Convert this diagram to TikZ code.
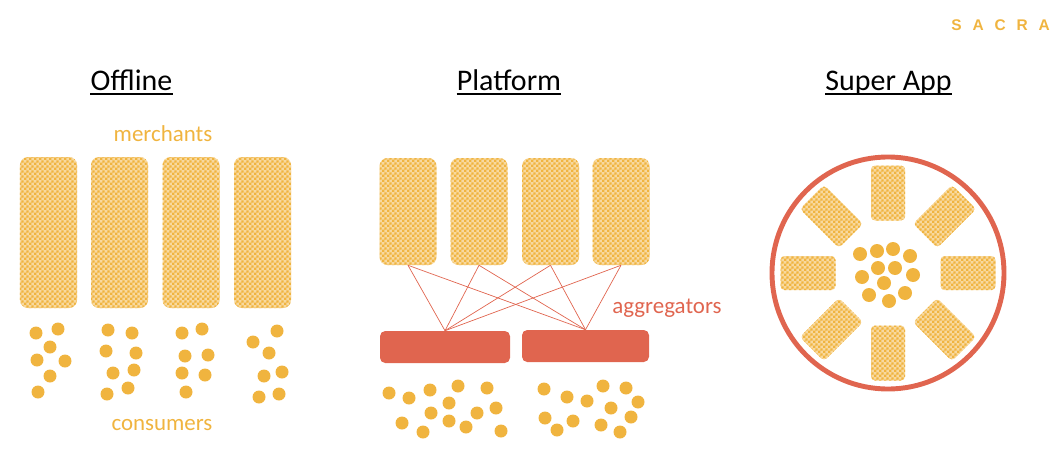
\documentclass[tikz,border=0pt]{standalone}
\usepackage{fontspec}
\setmainfont{Carlito}
\newfontfamily\logofont[LetterSpace=70]{Liberation Sans}
\usetikzlibrary{patterns,calc}

\definecolor{merchorange}{HTML}{F0B43F}
\definecolor{aggred}{HTML}{E0654F}

% small checker for the merchant blocks
\pgfdeclarepatternformonly{checker}{\pgfpointorigin}{\pgfqpoint{3.4pt}{3.4pt}}{\pgfqpoint{3.4pt}{3.4pt}}{%
  \pgfpathrectangle{\pgfpointorigin}{\pgfqpoint{1.7pt}{1.7pt}}%
  \pgfpathrectangle{\pgfqpoint{1.7pt}{1.7pt}}{\pgfqpoint{1.7pt}{1.7pt}}%
  \pgfusepath{fill}}

\tikzset{
  merchant/.style={rectangle, rounded corners=2mm, inner sep=0pt,
    preaction={fill=merchorange!50}, pattern=checker, pattern color=merchorange},
  aggregator/.style={rectangle, rounded corners=1.3mm, inner sep=0pt, fill=aggred},
  title/.style={anchor=base, inner sep=0pt, font=\fontsize{21.3}{24}\selectfont},
  caption/.style={anchor=base, inner sep=0pt, font=\fontsize{16.3}{19}\selectfont},
  consumer/.style={fill=merchorange},
  link/.style={draw=aggred, line width=0.5pt},
}

\begin{document}
\begin{tikzpicture}[x=0.25mm, y=-0.25mm]
    \useasboundingbox (0,0) rectangle (1055,458);

    % logo (top right)
    \node[anchor=base east, inner sep=0pt, text=merchorange, font=\logofont\bfseries\fontsize{11}{12}\selectfont] (logo) at (1050,30) {SACRA};

    % Titles
    \node[title] (tOffline) at (131.5,90) {Offline};
    \node[title] (tPlatform) at (509,90) {Platform};
    \node[title] (tSuper) at (888.5,90) {Super App};
    \foreach \t in {tOffline, tPlatform, tSuper}
        \draw[line width=2pt] ([yshift=-2.9pt]\t.base west) -- ([yshift=-2.9pt]\t.base east);

    % Offline: merchants (top)
    \node[caption, text=merchorange] (lblMerchants) at (163,141) {merchants};
    \foreach \x [count=\i] in {48.5, 119.5, 191, 262.5}
        \node[merchant, minimum width=14.25mm, minimum height=37.75mm] (om\i) at (\x,232.5) {};

    % Offline: consumers (bottom)
    \foreach \p in {(36,333), (58,329), (50,347), (37,360), (65,361), (50,376), (38,392),
                    (108,330), (132,333), (106,351), (136,353), (113,373), (134,370), (107,394), (128,388),
                    (182,333), (202,329), (185,356), (208,355), (182,373), (205,375), (186,392),
                    (253,342), (277,331), (269,353), (264,376), (282,372), (259,397), (279,394)}
        \fill[consumer] \p circle [radius=6.5];
    \node[caption, text=merchorange] (lblConsumers) at (162,430) {consumers};

    % Platform: merchants (top)
    \foreach \x [count=\i] in {408, 479, 550.5, 621}
        \node[merchant, minimum width=14.25mm, minimum height=26.75mm] (pm\i) at (\x,211.5) {};

    % Platform: aggregators
    \node[aggregator, minimum width=32.5mm, minimum height=8mm] (agg1) at (445,347) {};
    \node[aggregator, minimum width=31.75mm, minimum height=8mm] (agg2) at (585.5,346) {};
    \node[caption, text=aggred] (lblAggregators) at (667,313) {aggregators};
    \foreach \m in {pm1, pm2, pm3, pm4}
        \foreach \a in {agg1, agg2}
            \draw[link] (\m.south) -- (\a.north);

    % Platform: consumers
    \foreach \p in {(389,393), (409,398), (430,390), (458,386), (487,388), (449,403), (431,413),
                    (477,413), (496,408), (402,423), (449,421), (466,427), (423,432), (501,431),
                    (544,389), (567,397), (587,401), (603,386), (626,388), (638,402), (611,408),
                    (631,417), (545,418), (573,421), (557,430), (601,425), (620,432)}
        \fill[consumer] \p circle [radius=6.5];

    % Super App: ring with merchants round the consumers
    \draw[draw=aggred, line width=3.5pt] (888,273) circle [radius=116];
    \foreach \a [count=\i] in {0,45,...,315}
        \node[merchant, rounded corners=1mm, minimum width=13.75mm, minimum height=8.5mm, rotate=-\a] (sm\i) at ($(888,273)+(\a:80)$) {};
    \foreach \p in {(860,254), (877,251), (893,249), (910,256), (878,268), (895,268),
                    (862,277), (913,275), (884,283), (869,295), (905,293), (889,301)}
        \fill[consumer] \p circle [radius=7];
\end{tikzpicture}
\end{document}
